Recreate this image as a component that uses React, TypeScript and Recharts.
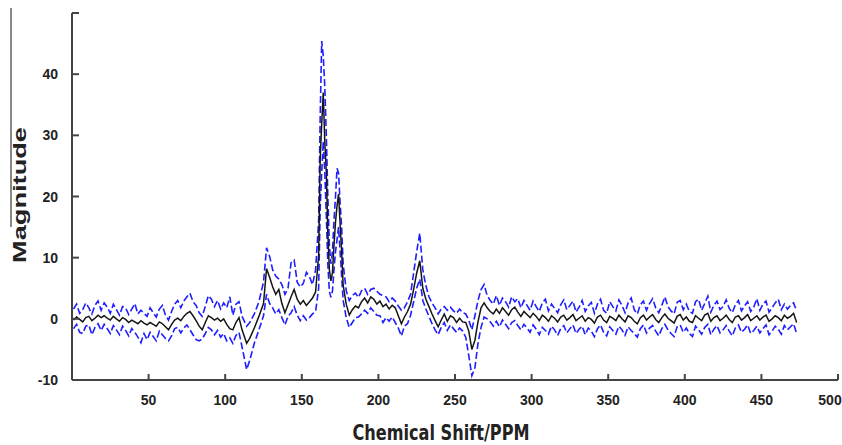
import { LineChart, Line, XAxis, YAxis } from "recharts";

// chemical shift (ppm) sample positions
const shift = [
  // baseline, low field
  1, 3, 5, 7, 9, 11, 13, 15, 17, 19,
  21, 23, 25, 27, 29, 31, 33, 35, 37, 39,
  41, 43, 45, 47, 49, 51, 53, 55, 57, 59,
  61, 63, 65, 67, 69, 71, 73, 75, 77, 79,
  81, 83, 85, 87, 89, 91, 93, 95, 97, 99,
  101, 103, 105, 107, 109, 111,
  // peak region
  114, 116,
  119, 122, 125, 127, 129, 131, 133, 135, 137, 139,
  141, 143, 145, 147, 149, 151, 153, 155, 157, 159,
  161, 162, 163, 164, 165, 166, 167, 168, 169, 170,
  171, 172, 173, 174, 175, 176, 177,
  179, 181, 183,
  185, 187, 189, 191, 193, 195, 197, 199, 201, 203,
  205, 207, 209, 211, 213, 215, 217, 219, 221, 223,
  225, 227, 229, 231, 233, 235, 237, 239, 241, 243,
  245, 247, 249, 251, 253, 255, 257, 259, 261, 263,
  265, 267, 269, 271, 273,
  // baseline, high field
  275, 277, 279, 281, 283, 285, 287, 289, 291, 293,
  295, 297, 299, 301, 303, 305, 307, 309, 311, 313,
  315, 317, 319, 321, 323, 325, 327, 329, 331, 333,
  335, 337, 339, 341, 343, 345, 347, 349, 351, 353,
  355, 357, 359, 361, 363, 365, 367, 369, 371, 373,
  375, 377, 379, 381, 383, 385, 387, 389, 391, 393,
  395, 397, 399, 401, 403, 405, 407, 409, 411, 413,
  415, 417, 419, 421, 423, 425, 427, 429, 431, 433,
  435, 437, 439, 441, 443, 445, 447, 449, 451, 453,
  455, 457, 459, 461, 463, 465, 467, 469, 471, 473,
];

const mean = [
  -0.2, 0.3, -0.1, -0.5, 0.2, 0.4, -0.3, 0.1, 0.6, 0.2,
  0.5, 0.1, -0.2, 0.4, 0.0, -0.4, 0.2, -0.1, -0.6, -0.2,
  -0.5, -0.8, -0.3, -0.7, -1.0, -0.6, -0.9, -1.2, -0.5, -0.8,
  -1.3, -1.8, -0.9, -0.2, 0.1, -0.3, 0.4, 0.9, 1.2, 0.5,
  -0.3, -1.2, -1.8, -0.6, 0.5, 0.2, -0.2, 0.1, -0.4, 0.0,
  -0.9, -1.6, -1.8, -0.6, 0.2, -1.8,
  -4.0, -3.2,
  -1.5, 0.4, 2.5, 8.2, 6.8, 5.2, 4.0, 4.8, 2.5, 1.0,
  2.3, 3.6, 4.8, 3.2, 2.4, 3.0, 2.2, 2.8, 3.4, 4.4,
  10.5, 26, 32, 37, 29, 24, 14, 8, 6.2, 7.5,
  12, 15.8, 18.5, 20.4, 15.5, 11, 5.5,
  2.4, 0.6, 1.5,
  2.1, 1.8, 2.8, 3.4, 2.6, 3.6, 3.2, 2.4, 2.9, 2.0,
  2.4, 1.6, 2.2, 1.8, 0.5, -0.8, 0.3, 1.2, 2.4, 4.8,
  7.5, 9.5, 5.0, 3.2, 2.0, 0.8, -0.3, -1.3, -0.2, 0.8,
  -0.4, 0.5, 0.2, -0.6, 0.1, -0.5, -0.6, -2.0, -5.0, -3.5,
  -0.5, 1.8, 2.6, 1.8, 1.2,
  0.8, 1.6, 0.9, 1.8, 1.2, 0.6, 1.5, 1.9, 1.1, 0.4,
  1.2, 0.7, 0.2, 0.9, 0.4, -0.3, 0.6, 0.2, -0.4, 0.5,
  0.1, -0.5, 0.3, 0.6, -0.2, 0.2, 0.7, -0.3, 0.1, 0.5,
  -0.4, 0.2, -0.1, -0.7, 0.3, 0.6, -0.2, -0.6, 0.4, 0.1,
  -0.3, 0.6, 0.0, -0.5, 0.5, 0.2, -0.4, -0.8, 0.2, 0.6,
  -0.2, 0.3, 0.7, -0.1, -0.6, 0.2, 0.8, 0.1, -0.3, -0.7,
  0.4, 0.7, -0.2, 0.3, -0.4, -0.6, 0.5, 0.1, -0.3, 0.6,
  0.9, -0.4, 0.2, 0.5, -0.3, 0.1, 0.6, -0.1, -0.6, 0.3,
  0.5, -0.2, 0.2, 0.7, -0.3, 0.1, 0.5, -0.2, 0.3, 0.6,
  -0.4, 0.0, 0.5, 0.2, -0.3, 0.6, 0.1, 0.4, 0.9, -0.6,
];

const upper = [
  1.6, 2.4, 0.9, 1.5, 2.6, 1.8, 0.8, 2.2, 2.9, 1.4,
  2.6, 1.9, 0.9, 2.4, 1.5, 0.6, 2.0, 1.8, 0.7, 1.6,
  2.5, 0.8, 1.4, 0.9, 0.4, 1.8, 1.0, 0.3, 1.6, 2.2,
  0.6, -0.2, 1.2, 2.4, 3.0, 1.8, 2.9, 3.6, 4.2, 2.8,
  2.2, 1.0, 0.4, 2.0, 3.8, 3.2, 2.0, 3.0, 1.6, 2.6,
  1.8, 3.6, 0.6, 2.4, 2.8, 0.4,
  -1.2, -0.6,
  0.8, 2.8, 6.0, 11.6, 10.2, 8.0, 7.0, 6.5, 5.6, 4.0,
  5.0, 9.2, 9.6, 6.0, 5.2, 5.8, 7.6, 6.9, 5.6, 8.0,
  16, 33, 45.4, 43, 38, 30, 20, 12, 9, 11,
  16, 20, 24.6, 23.8, 19, 15, 9,
  4.6, 3.0, 3.8,
  4.2, 3.5, 4.6, 5.0, 4.0, 4.8, 5.0, 4.5, 4.0, 3.8,
  3.6, 2.8, 3.4, 2.9, 2.1, 1.4, 1.8, 2.8, 4.0, 7.5,
  11.0, 14.0, 8.0, 5.4, 3.6, 2.6, 1.8, 0.8, 1.6, 2.0,
  1.4, 1.9, 1.3, 0.9, 1.6, 1.0, 0.8, -0.2, -1.8, 0.5,
  3.0, 4.8, 5.6, 3.8, 3.0,
  2.4, 3.8, 2.2, 3.4, 2.8, 1.9, 3.6, 2.8, 3.3, 1.8,
  3.0, 2.2, 1.4, 2.9, 2.0, 1.2, 2.6, 3.2, 1.3, 2.4,
  1.7, 1.0, 2.3, 3.1, 1.5, 2.2, 2.9, 1.1, 1.9, 3.0,
  1.2, 2.1, 2.7, 0.9, 2.4, 3.2, 1.4, 0.9, 2.8, 2.0,
  1.3, 3.1, 2.2, 1.0, 2.6, 3.4, 1.5, 0.8, 2.3, 2.9,
  1.4, 2.5, 3.3, 1.8, 1.0, 2.2, 3.6, 2.0, 1.3, 0.8,
  2.7, 3.0, 1.5, 2.4, 1.2, 0.9, 2.8, 3.2, 1.4, 2.5,
  3.7, 1.1, 2.2, 2.9, 1.5, 2.0, 3.1, 1.7, 1.0, 2.3,
  3.0, 1.3, 2.1, 2.8, 1.2, 1.9, 3.3, 1.4, 2.4, 2.9,
  1.1, 1.8, 2.6, 3.2, 1.5, 2.4, 1.6, 2.2, 2.6, 1.3,
];

const lower = [
  -1.6, -0.9, -2.2, -2.4, -1.2, -1.0, -2.6, -1.4, -0.8, -1.9,
  -0.9, -1.6, -2.4, -1.1, -1.8, -2.6, -1.2, -1.9, -2.8, -1.6,
  -2.2, -3.0, -3.9, -2.4, -3.4, -2.2, -2.9, -3.6, -2.0, -2.6,
  -3.2, -3.6, -2.8, -1.6, -1.4, -2.3, -1.5, -1.0, -1.8, -2.6,
  -3.4, -3.6, -3.3, -2.4, -1.4, -1.8, -2.6, -1.9, -3.0, -2.4,
  -3.6, -3.1, -4.0, -2.7, -2.2, -4.6,
  -8.3, -6.8,
  -4.0, -1.8, 0.5, 4.0, 2.5, 1.8, 0.8, 1.5, 0.2, -1.0,
  0.4, 1.0, 2.0, 0.6, -0.3, 0.5, -0.2, 0.2, 0.8, 1.2,
  5, 18, 24, 29, 24, 17, 9, 4.5, 3.5, 4.5,
  8, 11, 13, 15, 11, 7, 3,
  0.2, -1.4, -0.6,
  0.2, 0.3, 0.8, 1.4, 0.9, 1.8, 1.2, 0.6, 0.5, -0.6,
  0.2, -0.4, 0.3, -0.6, -1.5, -2.8, -1.2, -0.8, 0.6, 2.8,
  5.0, 6.5, 3.0, 1.6, 0.4, -0.8, -1.8, -2.6, -1.4, -0.6,
  -1.9, -1.0, -1.6, -2.2, -1.5, -2.0, -3.0, -6.0, -9.3, -8.0,
  -4.0, -1.4, 0.3, 0.0, -0.5,
  -1.2, -0.4, -1.3, -0.2, -0.9, -1.6, -0.6, -0.3, -1.1, -1.8,
  -0.9, -1.5, -2.2, -1.0, -1.7, -2.6, -1.4, -1.9, -2.5, -1.2,
  -1.8, -2.7, -1.6, -1.1, -2.3, -1.6, -1.0, -2.4, -1.7, -1.2,
  -2.6, -1.5, -2.0, -2.9, -1.6, -1.0, -2.2, -2.8, -1.3, -1.9,
  -2.5, -1.2, -1.8, -2.7, -1.3, -1.9, -2.4, -3.0, -1.6, -1.0,
  -2.3, -1.5, -1.1, -2.0, -2.8, -1.6, -0.9, -1.8, -2.4, -2.9,
  -1.3, -1.0, -2.2, -1.5, -2.4, -2.9, -1.2, -1.8, -2.5, -1.4,
  -0.9, -2.6, -1.7, -1.1, -2.3, -1.8, -1.1, -2.0, -2.8, -1.5,
  -1.0, -2.2, -1.7, -1.0, -2.4, -1.9, -1.2, -2.3, -1.6, -1.0,
  -2.6, -2.0, -1.2, -1.7, -2.5, -1.1, -1.8, -1.3, -0.8, -2.4,
];

const xTicks = [50, 100, 150, 200, 250, 300, 350, 400, 450, 500];
const yTicks = [-10, 0, 10, 20, 30, 40, 50];

const data = shift.map((x, i) => ({
  x,
  mean: mean[i],
  upper: upper[i],
  lower: lower[i],
}));

const tickFont = {
  fontFamily: "'Liberation Sans', Arial, sans-serif",
  fontWeight: 700,
  fontSize: 14,
  fill: "#222",
};

const titleFont = "'Liberation Sans Narrow', 'DejaVu Sans Condensed', 'Liberation Sans', sans-serif";

function YTick(props: any) {
  const { x, y, payload } = props;
  const ax = x + 14;
  return (
    <g>
      <line x1={ax} x2={ax + 7} y1={y} y2={y} stroke="#444" strokeWidth={2} />
      {payload.value !== 50 && (
        <text x={x} y={y} dy="0.36em" textAnchor="end" {...tickFont}>
          {payload.value}
        </text>
      )}
    </g>
  );
}

function XTick(props: any) {
  const { x, y, payload } = props;
  const ay = y - 14;
  const tx = payload.value === 500 ? x - 8 : x;
  return (
    <g>
      <line x1={x} x2={x} y1={ay} y2={ay - 6} stroke="#444" strokeWidth={2} />
      <text x={tx} y={y} dy="0.78em" textAnchor="middle" {...tickFont}>
        {payload.value}
      </text>
    </g>
  );
}

export default function App() {
  return (
    <div
      style={{
        position: "absolute",
        left: 0,
        top: 0,
        width: 842,
        height: 445,
        background: "#fff",
      }}
    >
      <div
        style={{
          position: "absolute",
          left: 10,
          top: 8,
          width: 2,
          height: 219,
          background: "#888",
        }}
      />
      <LineChart
        width={842}
        height={445}
        data={data}
        margin={{ top: 13, right: 4, left: 0, bottom: 0 }}
      >
        <XAxis
          type="number"
          dataKey="x"
          domain={[0, 500]}
          ticks={xTicks}
          interval={0}
          height={65}
          tickSize={0}
          tickLine={false}
          tickMargin={14}
          axisLine={{ stroke: "#444", strokeWidth: 2 }}
          tick={<XTick />}
          label={{
            content: () => (
              <text
                x={441}
                y={432}
                textAnchor="middle"
                dominantBaseline="central"
                fontFamily={titleFont}
                fontWeight={700}
                fontSize={22}
                fill="#222"
                textLength={177}
                lengthAdjust="spacingAndGlyphs"
              >
                Chemical Shift/PPM
              </text>
            ),
          }}
        />
        <YAxis
          type="number"
          domain={[-10, 50]}
          ticks={yTicks}
          interval={0}
          width={72}
          tickSize={0}
          tickLine={false}
          tickMargin={14}
          axisLine={{ stroke: "#444", strokeWidth: 2 }}
          tick={<YTick />}
          label={{
            content: () => (
              <text
                x={19}
                y={195}
                transform="rotate(-90 19 195)"
                textAnchor="middle"
                dominantBaseline="central"
                fontFamily="'Liberation Sans', Arial, sans-serif"
                fontWeight={700}
                fontSize={19}
                fill="#222"
                textLength={136}
                lengthAdjust="spacingAndGlyphs"
              >
                Magnitude
              </text>
            ),
          }}
        />
        <Line
          type="linear"
          dataKey="upper"
          stroke="#1e1eff"
          strokeWidth={1.6}
          strokeDasharray="7 3"
          dot={false}
          isAnimationActive={false}
        />
        <Line
          type="linear"
          dataKey="lower"
          stroke="#1e1eff"
          strokeWidth={1.6}
          strokeDasharray="7 3"
          dot={false}
          isAnimationActive={false}
        />
        <Line
          type="linear"
          dataKey="mean"
          stroke="#151515"
          strokeWidth={1.5}
          dot={false}
          isAnimationActive={false}
        />
      </LineChart>
    </div>
  );
}
